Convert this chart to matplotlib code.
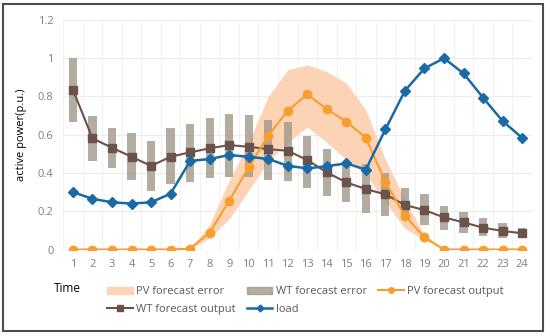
import matplotlib
matplotlib.use("Agg")
import matplotlib.pyplot as plt
import numpy as np
from matplotlib.patches import Patch, Rectangle
from matplotlib.lines import Line2D

plt.rcParams['font.family'] = ['Open Sans', 'DejaVu Sans']

hours = list(range(1, 25))

load = [0.30, 0.265, 0.247, 0.24, 0.247, 0.292, 0.463, 0.473, 0.494, 0.485, 0.473, 0.438,
        0.424, 0.436, 0.45, 0.418, 0.628, 0.83, 0.947, 1.0, 0.921, 0.794, 0.672, 0.584]

pv_out = [0, 0, 0, 0, 0, 0, 0.005, 0.088, 0.255, 0.43, 0.595, 0.726,
          0.811, 0.734, 0.668, 0.584, 0.351, 0.177, 0.064, 0, 0, 0, 0, 0]
pv_err_hi = [0, 0, 0, 0, 0, 0, 0.005, 0.13, 0.36, 0.56, 0.80, 0.94,
             0.965, 0.93, 0.87, 0.73, 0.47, 0.26, 0.075, 0, 0, 0, 0, 0]
pv_err_lo = [0, 0, 0, 0, 0, 0, 0.005, 0.06, 0.16, 0.31, 0.46, 0.56,
             0.64, 0.56, 0.47, 0.39, 0.25, 0.11, 0.05, 0, 0, 0, 0, 0]

wt_out = [0.835, 0.581, 0.532, 0.485, 0.437, 0.485, 0.508, 0.529, 0.546, 0.537, 0.525, 0.516,
          0.468, 0.403, 0.351, 0.316, 0.288, 0.233, 0.206, 0.168, 0.142, 0.114, 0.097, 0.085]
wt_err_hi = [1.0, 0.698, 0.637, 0.607, 0.567, 0.633, 0.656, 0.686, 0.708, 0.703, 0.677, 0.665,
             0.595, 0.524, 0.45, 0.447, 0.398, 0.323, 0.288, 0.229, 0.198, 0.163, 0.137, 0.114]
wt_err_lo = [0.668, 0.462, 0.424, 0.363, 0.306, 0.342, 0.351, 0.372, 0.381, 0.377, 0.363, 0.358,
             0.32, 0.281, 0.247, 0.189, 0.175, 0.154, 0.128, 0.102, 0.088, 0.071, 0.058, 0.067]

c_load = "#1b6aa8"
c_pv = "#f99d2f"
c_wt = "#6b524a"
c_band = "#fdd3b5"
c_bar = "#9f978a"

fig = plt.figure(figsize=(5.5, 3.36), dpi=100)
ax = fig.add_axes([0.1149, 0.2574, 0.967 - 0.1149, 0.9405 - 0.2574])

x = np.array(hours)
ax.fill_between(x, pv_err_lo, pv_err_hi, color=c_band, lw=0, zorder=1)
lo = np.array(wt_err_lo)
hi = np.array(wt_err_hi)
ax.bar(x, hi - lo, bottom=lo, width=0.42, color=c_bar, alpha=0.8, zorder=2)

ax.plot(x, wt_out, color=c_wt, lw=1.5, marker='s', ms=5.5, zorder=3)
ax.plot(x, pv_out, color=c_pv, lw=1.5, marker='o', ms=6, zorder=4)
ax.plot(x, load, color=c_load, lw=1.8, marker='D', ms=5.5, zorder=5)

ax.set_xlim(0.5, 24.5)
ax.set_ylim(0, 1.2)
ax.set_xticks(hours)
ax.set_yticks([0, 0.2, 0.4, 0.6, 0.8, 1.0, 1.2])
ax.set_yticklabels(['0', '0.2', '0.4', '0.6', '0.8', '1', '1.2'])
ax.set_xticks(np.arange(0.5, 25, 1), minor=True)
ax.grid(axis='y', color='#ececec', lw=0.8, zorder=0)
ax.grid(axis='x', which='minor', color='#f2f2f2', lw=0.8, zorder=0)
ax.tick_params(which='both', length=0, labelsize=8, labelcolor='#7f7f7f', pad=7)
ax.set_axisbelow(True)
for s in ax.spines.values():
    s.set_visible(False)

ax.set_ylabel('active power(p.u.)', fontsize=8, labelpad=8, color='black')
fig.text(0.123, 0.14, 'Time', fontsize=8.5, ha='center', va='center')

handles = [
    Patch(color=c_band),
    Line2D([], [], color=c_wt, lw=1.5, marker='s', ms=4),
    Patch(color=c_bar, alpha=0.8),
    Line2D([], [], color=c_load, lw=1.8, marker='D', ms=3.5),
    Line2D([], [], color=c_pv, lw=1.5, marker='o', ms=4),
]
labels = ['PV forecast error', 'WT forecast output', 'WT forecast error', 'load', 'PV forecast output']
leg = fig.legend(handles, labels, ncol=3, loc='upper left', bbox_to_anchor=(0.185, 0.165),
                 frameon=False, fontsize=8, handlelength=2.3, handleheight=0.6,
                 handletextpad=0.3, columnspacing=1.0, labelspacing=0.6, borderpad=0)
for t in leg.get_texts():
    t.set_color('#595959')

fig.patches.append(Rectangle((3 / 550, 5 / 336), 540 / 550, 327 / 336, transform=fig.transFigure,
                             fill=False, edgecolor='#4d4d4d', lw=1.5))

fig.savefig('out.png', dpi=100)
